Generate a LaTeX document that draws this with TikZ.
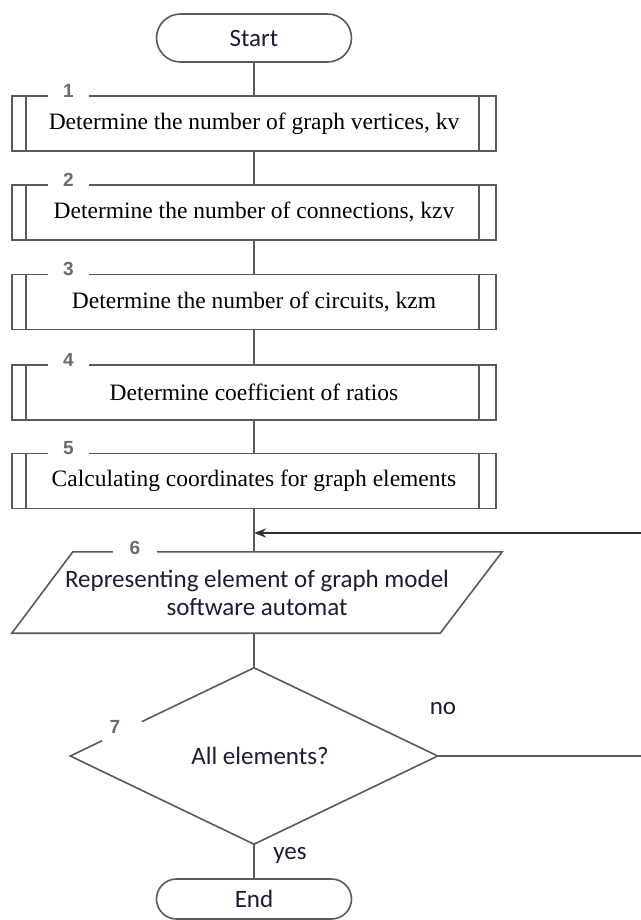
\documentclass[tikz,border=0pt]{standalone}
\usepackage{fontspec}
\setmainfont{Liberation Serif}
\newfontfamily\calib{Carlito}
\newfontfamily\arialf{Liberation Sans}
\usetikzlibrary{shapes.geometric,arrows.meta,calc}
\definecolor{linegray}{HTML}{5A5A5A}
\definecolor{darkline}{HTML}{303030}
\definecolor{numgray}{HTML}{6A6A74}
\definecolor{navy}{HTML}{1C1C38}
\begin{document}
\begin{tikzpicture}[x=1pt,y=-1pt,
  line/.style={draw=linegray, line width=1.6pt},
  retline/.style={draw=darkline, line width=2pt},
  sanstext/.style={font=\calib\fontsize{25}{28}\selectfont, text=navy},
  term/.style={draw=linegray, line width=1.6pt, minimum width=195pt, inner sep=0pt, sanstext},
  proc/.style={draw=linegray, line width=1.6pt, minimum width=484pt, minimum height=55pt, inner sep=0pt, font=\fontsize{23.5}{27}\selectfont},
  numfont/.style={font=\arialf\bfseries\fontsize{19}{19}\selectfont, text=numgray},
  numlbl/.style={fill=white, inner sep=0pt, minimum height=14pt, numfont}
]
\useasboundingbox (0,0) rectangle (640,920);
\fill[white] (0,0) rectangle (640,920);

% terminals
\node[term, minimum height=48pt, rounded corners=24pt] (start) at (254,38) {Start};
\node[term, minimum height=40pt, rounded corners=20pt] (end) at (254,899) {End};

% process boxes
\node[proc] (p1) at (254,123.5) {Determine the number of graph vertices, kv};
\node[proc] (p2) at (254,212.5) {Determine the number of connections, kzv};
\node[proc] (p3) at (254,302) {Determine the number of circuits, kzm};
\node[proc] (p4) at (254,392.5) {Determine coefficient of ratios};
\node[proc] (p5) at (254,481) {Calculating coordinates for graph elements};
\foreach \i in {1,...,5}{
  \draw[line] ([xshift=15pt]p\i.north west) -- ([xshift=15pt]p\i.south west);
  \draw[line] ([xshift=-18pt]p\i.north east) -- ([xshift=-18pt]p\i.south east);
}
\node[numlbl, minimum width=41pt] (n1) at (68.5,91) {1};
\node[numlbl, minimum width=41pt] (n2) at (68.5,180) {2};
\node[numlbl, minimum width=41pt] (n3) at (68.5,269) {3};
\node[numlbl, minimum width=41pt] (n4) at (68.5,360) {4};
\node[numlbl, minimum width=41pt] (n5) at (68.5,448) {5};

% input/output (parallelogram)
\node[draw=none, minimum width=490pt, minimum height=81pt, inner sep=0pt, align=center, sanstext] (p6) at (257,592.5) {Representing element of graph model\\software automat};
\draw[line] ($(p6.north west)+(61,0)$) -- (p6.north east) -- ($(p6.south east)+(-62,0)$) -- (p6.south west) -- cycle;
\node[numlbl, minimum width=44pt] (n6) at (135,548) {6};

% decision
\node[diamond, draw=none, minimum width=367pt, minimum height=176pt, inner sep=0pt, sanstext] (d7) at (254,756) {\hspace*{12pt}All elements?};
\draw[line] ($(d7.west)!0.389!(d7.north)$) -- (d7.north) -- (d7.east) -- (d7.south) -- (d7.west) -- ($(d7.west)!0.173!(d7.north)$);
\node[inner sep=0pt, numfont] (n7) at (115,727) {7};

% connectors
\draw[line] (start.south) -- (p1.north);
\draw[line] (p1.south) -- (p2.north);
\draw[line] (p2.south) -- (p3.north);
\draw[line] (p3.south) -- (p4.north);
\draw[line] (p4.south) -- (p5.north);
\draw[line] (p5.south) -- (p5.south |- p6.north);
\draw[line] (d7.north |- p6.south) -- (d7.north);
\draw[line] (d7.south) -- (end.north);

\coordinate (jn) at (254,533);
\coordinate (rb) at (642,756);
\coordinate (rt) at (642,533);
\draw[line] (d7.east) -- (rb) -- (rt);
\draw[retline, -{Stealth[length=12pt,width=9pt]}] (rt) -- (jn);

\node[sanstext] (no) at (443,709) {no};
\node[sanstext] (yes) at (290,855) {yes};
\end{tikzpicture}
\end{document}
